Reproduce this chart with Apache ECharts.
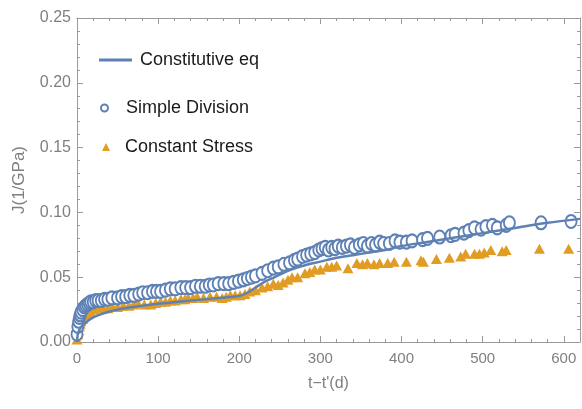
<!DOCTYPE html>
<html>
<head>
<meta charset="utf-8">
<script src="https://cdn.jsdelivr.net/npm/echarts@6/dist/echarts.min.js"></script>
<style>
  html, body { margin: 0; padding: 0; background: #fff; }
  #chart { width: 582px; height: 409px; }
</style>
</head>
<body>
<div id="chart"></div>
<script>
// Creep compliance J (1/GPa) versus loading age t - t' (days)

// Constitutive equation curve
const modelT = [0, 0.5, 1, 2, 3, 5, 7, 10, 15, 20, 30, 40, 50, 60, 80, 100, 125, 150, 175, 200,
  210, 220, 230, 240, 250, 265, 280, 300, 320, 340, 360, 380, 400, 430, 460, 500, 540, 580, 620];
const modelJ = [0.000, 0.004, 0.006, 0.008, 0.0095, 0.0115, 0.013, 0.0145, 0.017, 0.019, 0.0215, 0.0235,
  0.025, 0.0262, 0.028, 0.0295, 0.031, 0.0325, 0.034, 0.0355, 0.038, 0.042, 0.046, 0.049, 0.052,
  0.056, 0.059, 0.062, 0.065, 0.067, 0.069, 0.071, 0.074, 0.077, 0.080, 0.084, 0.088, 0.092, 0.095];

// Simple Division
const simpleT = [0, 1, 2, 3, 4, 5, 7, 9, 11, 13, 15, 17, 20, 23, 26, 30, 34, 38, 43, 50, 55, 60, 65,
  70, 76, 81, 87, 93, 98, 103, 109, 115, 121, 128, 134, 140, 146, 152, 158, 163, 168, 174, 181, 187,
  193, 199, 205, 210, 215, 220, 228, 235, 242, 248, 255, 262, 268, 272, 278, 283, 288, 293, 298, 302,
  306, 310, 314, 318, 322, 327, 332, 337, 342, 348, 353, 358, 363, 368, 373, 378, 385, 392, 398, 406,
  413, 426, 432, 447, 461, 466, 477, 483, 490, 498, 504, 512, 518, 529, 533, 572, 609];
const simpleJ = [0.006, 0.012, 0.016, 0.019, 0.021, 0.023, 0.025, 0.027, 0.028, 0.029, 0.030, 0.031,
  0.031, 0.032, 0.032, 0.032, 0.033, 0.033, 0.034, 0.034, 0.035, 0.035, 0.036, 0.036, 0.037, 0.038,
  0.038, 0.039, 0.039, 0.039, 0.040, 0.041, 0.041, 0.042, 0.042, 0.042, 0.043, 0.043, 0.043, 0.044,
  0.044, 0.045, 0.045, 0.045, 0.046, 0.047, 0.048, 0.049, 0.050, 0.051, 0.053, 0.055, 0.057, 0.058,
  0.060, 0.061, 0.063, 0.064, 0.066, 0.067, 0.068, 0.069, 0.071, 0.072, 0.073, 0.071, 0.073, 0.072,
  0.074, 0.073, 0.074, 0.075, 0.073, 0.075, 0.076, 0.074, 0.076, 0.075, 0.077, 0.076, 0.076, 0.078,
  0.077, 0.077, 0.078, 0.079, 0.080, 0.081, 0.082, 0.083, 0.084, 0.086, 0.088, 0.087, 0.089, 0.090,
  0.088, 0.090, 0.092, 0.092, 0.093];

// Constant Stress
const constT = [0, 1, 2, 3, 4, 5, 7, 9, 11, 14, 17, 21, 26, 32, 38, 44, 50, 57, 64, 70, 75, 83, 91,
  97, 103, 109, 115, 121, 128, 133, 137, 143, 148, 156, 164, 172, 179, 184, 189, 195, 201, 207, 213,
  220, 228, 235, 242, 248, 254, 260, 265, 272, 281, 287, 293, 300, 308, 314, 320, 334, 345, 352, 358,
  366, 373, 383, 391, 406, 424, 427, 443, 459, 473, 479, 490, 496, 502, 510, 524, 529, 570, 606];
const constJ = [0.002, 0.006, 0.009, 0.012, 0.014, 0.016, 0.018, 0.020, 0.021, 0.022, 0.023, 0.025,
  0.026, 0.026, 0.026, 0.027, 0.027, 0.028, 0.028, 0.029, 0.030, 0.029, 0.029, 0.030, 0.031, 0.031,
  0.032, 0.032, 0.033, 0.033, 0.034, 0.034, 0.035, 0.034, 0.035, 0.035, 0.034, 0.035, 0.036, 0.036,
  0.036, 0.037, 0.039, 0.040, 0.042, 0.043, 0.045, 0.044, 0.046, 0.048, 0.050, 0.050, 0.053, 0.054,
  0.056, 0.056, 0.058, 0.058, 0.059, 0.057, 0.061, 0.060, 0.061, 0.060, 0.061, 0.061, 0.062, 0.062,
  0.063, 0.062, 0.064, 0.065, 0.066, 0.068, 0.068, 0.068, 0.069, 0.071, 0.070, 0.071, 0.072, 0.072];

const xTicks = { min: 0, max: 620, interval: 100 };
const yTicks = { min: 0, max: 0.25, interval: 0.05 };

const BLUE = '#5E81B5';
const ORANGE = '#E19C24';
const FRAME = '#9a9a9a';
const LABEL = '#7f7f7f';
const FONT = '"Liberation Sans", Arial, sans-serif';

const zip = (xs, ys) => xs.map((x, i) => [x, ys[i]]);

function frameAxis(kind, pos, showLabels, extra) {
  const t = kind === 'x' ? xTicks : yTicks;
  const base = {
    type: 'value',
    position: pos,
    min: t.min,
    max: t.max,
    interval: t.interval,
    splitLine: { show: false },
    axisLine: { show: true, onZero: false, lineStyle: { color: FRAME, width: 1 } },
    axisTick: { show: true, inside: true, length: 6, lineStyle: { color: FRAME, width: 1 } },
    minorTick: { show: true, splitNumber: 5, length: 3, lineStyle: { color: FRAME, width: 1 } },
    axisLabel: { show: showLabels, color: LABEL, fontFamily: FONT }
  };
  return Object.assign(base, extra || {});
}

const legendText = { fontSize: 18, color: '#1a1a1a', fontFamily: FONT };

const chart = echarts.init(document.getElementById('chart'), null, { renderer: 'canvas' });

chart.setOption({
  animation: false,
  backgroundColor: '#ffffff',
  grid: { left: 77, right: 2, top: 18, bottom: 67 },
  xAxis: [
    frameAxis('x', 'bottom', true, {
      name: 't\u2212t\'(d)',
      nameLocation: 'middle',
      nameGap: 34,
      nameTextStyle: { color: LABEL, fontSize: 16, fontFamily: FONT },
      axisLabel: { show: true, color: LABEL, fontSize: 15, fontFamily: FONT, margin: 9,
        showMaxLabel: false, formatter: v => (v % 100 === 0 ? String(v) : '') }
    }),
    frameAxis('x', 'top', false)
  ],
  yAxis: [
    frameAxis('y', 'left', true, {
      name: 'J(1/GPa)',
      nameLocation: 'middle',
      nameGap: 49,
      nameTextStyle: { color: LABEL, fontSize: 17, fontFamily: FONT },
      axisLabel: { show: true, color: LABEL, fontSize: 16, fontFamily: FONT, margin: 6,
        formatter: v => v.toFixed(2) }
    }),
    frameAxis('y', 'right', false)
  ],
  legend: [
    {
      left: 99, top: 51, padding: 0, itemWidth: 33, itemHeight: 20,
      textStyle: Object.assign({ padding: [0, 0, 0, 3] }, legendText),
      data: [{ name: 'Constitutive eq', icon: 'path://M0,8.5 L33,8.5 L33,11.5 L0,11.5 Z',
               itemStyle: { color: BLUE } }]
    },
    {
      left: 100, top: 99, padding: 0, itemWidth: 7, itemHeight: 10, symbolKeepAspect: false,
      textStyle: Object.assign({ padding: [0, 0, 0, 13] }, legendText),
      data: [{ name: 'Simple Division', icon: 'emptyCircle',
               itemStyle: { color: BLUE, borderColor: BLUE, borderWidth: 1.1 } }]
    },
    {
      left: 102, top: 138, padding: 0, itemWidth: 8, itemHeight: 8,
      textStyle: Object.assign({ padding: [0, 0, 0, 10] }, legendText),
      data: [{ name: 'Constant Stress', icon: 'triangle', itemStyle: { color: ORANGE } }]
    }
  ],
  series: [
    {
      name: 'Constant Stress',
      type: 'scatter',
      symbol: 'triangle',
      symbolSize: [11, 10],
      itemStyle: { color: ORANGE, opacity: 1 },
      data: zip(constT, constJ),
      z: 2
    },
    {
      name: 'Simple Division',
      type: 'scatter',
      symbol: 'emptyCircle',
      symbolSize: [11, 13],
      itemStyle: { color: BLUE, borderColor: BLUE, borderWidth: 1.3, opacity: 1 },
      data: zip(simpleT, simpleJ),
      z: 3
    },
    {
      name: 'Constitutive eq',
      type: 'line',
      smooth: 0.3,
      symbol: 'none',
      lineStyle: { color: BLUE, width: 2.5 },
      itemStyle: { color: BLUE },
      data: zip(modelT, modelJ),
      z: 4
    }
  ]
});
</script>
</body>
</html>
